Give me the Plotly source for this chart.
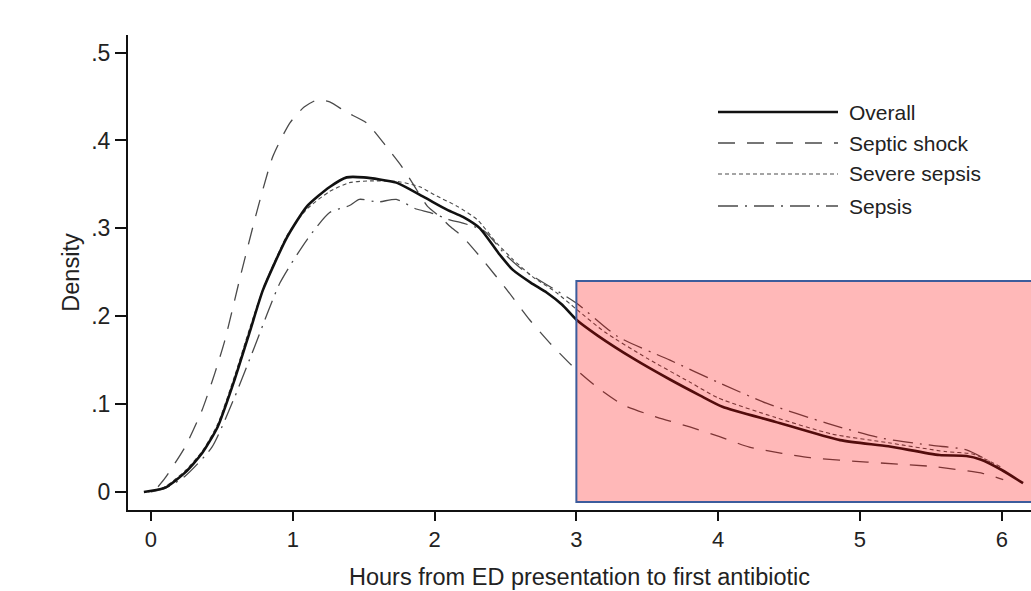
import plotly.graph_objects as go

# ---- data ----
overall_x = [-0.05, 0.10, 0.24, 0.36, 0.47, 0.59, 0.70, 0.79, 0.96, 1.10, 1.26, 1.38, 1.50, 1.73, 1.92,
             2.09, 2.20, 2.32, 2.45, 2.55, 2.68, 2.79, 2.90, 3.00, 3.15, 3.40, 3.66, 3.87, 4.03, 4.40,
             4.86, 5.20, 5.56, 5.75, 5.85, 6.00, 6.15]
overall_y = [0.000, 0.005, 0.022, 0.044, 0.074, 0.128, 0.184, 0.230, 0.290, 0.325, 0.347, 0.358, 0.358,
             0.352, 0.336, 0.321, 0.313, 0.300, 0.272, 0.253, 0.238, 0.227, 0.213, 0.196, 0.178, 0.152,
             0.128, 0.110, 0.097, 0.080, 0.059, 0.052, 0.042, 0.041, 0.037, 0.025, 0.010]

shock_x = [0.05, 0.10, 0.24, 0.36, 0.45, 0.52, 0.63, 0.75, 0.86, 0.98, 1.08, 1.17, 1.26, 1.38,
           1.52, 1.66, 1.77, 1.85, 1.95, 2.04, 2.11, 2.20, 2.34, 2.51, 2.67, 2.81, 2.98, 3.14, 3.33,
           3.57, 3.80, 4.01, 4.22, 4.45, 4.65, 5.05, 5.51, 5.87, 6.01]
shock_y = [0.006, 0.016, 0.051, 0.093, 0.135, 0.172, 0.245, 0.321, 0.382, 0.420, 0.438, 0.446,
           0.444, 0.432, 0.420, 0.393, 0.370, 0.350, 0.325, 0.313, 0.302, 0.290, 0.264, 0.230, 0.196,
           0.170, 0.142, 0.120, 0.099, 0.085, 0.074, 0.063, 0.051, 0.044, 0.039, 0.034, 0.029, 0.021,
           0.014]

severe_x = [-0.02, 0.10, 0.24, 0.36, 0.47, 0.59, 0.70, 0.80, 0.96, 1.10, 1.26, 1.40, 1.55, 1.75, 1.90,
            2.00, 2.16, 2.30, 2.44, 2.55, 2.69, 2.85, 3.00, 3.20, 3.50, 3.80, 4.00, 4.40, 4.80, 5.20,
            5.60, 5.80, 6.00]
severe_y = [0.000, 0.006, 0.024, 0.046, 0.077, 0.132, 0.188, 0.235, 0.292, 0.322, 0.342, 0.352, 0.354,
            0.353, 0.347, 0.338, 0.325, 0.310, 0.283, 0.265, 0.245, 0.228, 0.208, 0.182, 0.152, 0.125,
            0.107, 0.085, 0.066, 0.056, 0.046, 0.043, 0.028]

sepsis_x = [0.00, 0.10, 0.24, 0.43, 0.59, 0.73, 0.91, 1.10, 1.26, 1.40, 1.47, 1.60, 1.73, 1.87, 1.97,
            2.10, 2.20, 2.35, 2.50, 2.62, 2.80, 3.00, 3.29, 3.66, 4.01, 4.34, 4.77, 5.16, 5.51, 5.75,
            5.90, 6.00]
sepsis_y = [0.000, 0.004, 0.018, 0.051, 0.108, 0.165, 0.238, 0.287, 0.318, 0.326, 0.333, 0.330, 0.333,
            0.322, 0.318, 0.310, 0.306, 0.297, 0.270, 0.253, 0.235, 0.215, 0.177, 0.150, 0.124, 0.101,
            0.078, 0.061, 0.053, 0.048, 0.036, 0.025]

series_names = ["Overall", "Septic shock", "Severe sepsis", "Sepsis"]
x_ticks = [0, 1, 2, 3, 4, 5, 6]
x_tick_labels = ["0", "1", "2", "3", "4", "5", "6"]
y_ticks = [0, 0.1, 0.2, 0.3, 0.4, 0.5]
y_tick_labels = ["0", ".1", ".2", ".3", ".4", ".5"]
highlight_x = [3.0, 6.6]
highlight_y = [-0.0114, 0.240]

# ---- styles ----
FONT = "Liberation Sans, Arial, Helvetica, sans-serif"
styles = [
    dict(color="#111111", width=2.6, dash="solid"),
    dict(color="#4a4a4a", width=1.3, dash="17px,12px"),
    dict(color="#4a4a4a", width=1.1, dash="4px,3px"),
    dict(color="#4a4a4a", width=1.3, dash="20px,7px,2px,7px"),
]
data = [(overall_x, overall_y), (shock_x, shock_y), (severe_x, severe_y), (sepsis_x, sepsis_y)]

fig = go.Figure()
for i in [1, 2, 3, 0]:
    xs, ys = data[i]
    fig.add_trace(go.Scatter(x=xs, y=ys, mode="lines", name=series_names[i],
                             line=dict(shape="spline", smoothing=0.6, **styles[i]),
                             showlegend=False, hoverinfo="skip"))

W, H = 1031, 591
ml, mr, mt, mb = 128, 0, 35, 81
pw, ph = W - ml - mr, H - mt - mb

shapes = [dict(type="rect", xref="x", yref="y",
               x0=highlight_x[0], x1=highlight_x[1], y0=highlight_y[0], y1=highlight_y[1],
               fillcolor="rgba(255,0,0,0.28)", line=dict(color="#3C5C9C", width=2),
               layer="above")]

# manual legend with long line samples, as in the original
legend_rows_px = [112, 143, 174, 206]
lx0, lx1, ltext = 718, 838, 847
annotations = []
for i, ypx in enumerate(legend_rows_px):
    yp = 1 - (ypx - mt) / ph
    shapes.append(dict(type="line", xref="paper", yref="paper",
                       x0=(lx0 - ml) / pw, x1=(lx1 - ml) / pw, y0=yp, y1=yp,
                       line=styles[i]))
    annotations.append(dict(xref="paper", yref="paper", x=(ltext - ml) / pw, y=yp,
                            text=series_names[i], showarrow=False, xanchor="left",
                            yanchor="middle", font=dict(family=FONT, size=21, color="#222")))

fig.update_layout(
    width=W, height=H,
    margin=dict(l=ml, r=mr, t=mt, b=mb),
    paper_bgcolor="white", plot_bgcolor="white",
    font=dict(family=FONT, size=22, color="#222"),
    shapes=shapes, annotations=annotations,
    showlegend=False,
)
fig.update_xaxes(range=[-0.162, 6.206], tickvals=x_ticks, ticktext=x_tick_labels,
                 showgrid=False, zeroline=False, showline=True, linecolor="#111", linewidth=2,
                 ticks="outside", ticklen=9, tickwidth=1.5, tickcolor="#111",
                 tickfont=dict(size=22),
                 title=dict(text="Hours from ED presentation to first antibiotic",
                            font=dict(size=23.5), standoff=17))
fig.update_yaxes(range=[-0.0205, 0.52], tickvals=y_ticks, ticktext=y_tick_labels,
                 showgrid=False, zeroline=False, showline=True, linecolor="#111", linewidth=2,
                 ticks="outside", ticklen=11, tickwidth=1.5, tickcolor="#111",
                 tickfont=dict(size=23),
                 title=dict(text="Density", font=dict(size=23.5), standoff=5))

fig.write_html("out.html", config={"displayModeBar": False},
               post_script="document.body.style.margin='0px';document.body.style.overflow='hidden';")
